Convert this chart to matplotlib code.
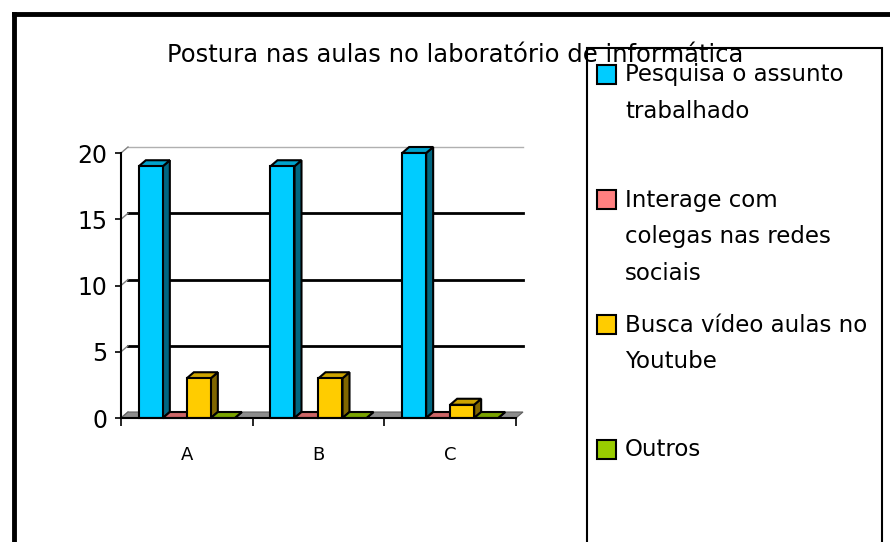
import matplotlib
matplotlib.use("Agg")
import matplotlib.pyplot as plt
from matplotlib.patches import Polygon, Rectangle
from matplotlib.lines import Line2D

# data
categories = ["A", "B", "C"]
series_names = ["Pesquisa o assunto\ntrabalhado",
                "Interage com\ncolegas nas redes\nsociais",
                "Busca vídeo aulas no\nYoutube",
                "Outros"]
pesquisa = [19, 19, 20]
interage = [0, 0, 0]
busca = [3, 3, 1]
outros = [0, 0, 0]
values = [pesquisa, interage, busca, outros]

# face colours: front, top, side
front_colors = ["#00CCFF", "#FF8080", "#FFCC00", "#99CC00"]
top_colors = ["#00A3CC", "#CC6666", "#CCA300", "#7AA300"]
side_colors = ["#006680", "#804040", "#806600", "#4D6600"]

W, H = 890, 542
fig = plt.figure(figsize=(W / 100, H / 100), dpi=100)
plt.rcParams['font.family'] = ['DejaVu Sans']

def fx(px):
    return px / W

def fy(py):
    return 1 - py / H

# axes placed where the front plane of the reference sits
ax = fig.add_axes([fx(121), fy(418), (516 - 121) / W, (418 - 153) / H])
ax.set_xlim(-0.5, 2.5)
ax.set_ylim(0, 20)

px_x = 395 / 3.0        # pixels per category
px_y = 265 / 20.0       # pixels per unit
dx = 7 / px_x           # depth offset
dy = 6 / px_y

bar_w = 24 / px_x
margin = (1 - 4 * bar_w) / 2

# back wall gridlines
for yv in [5, 10, 15, 20]:
    col = "black" if yv < 20 else "#B0B0B0"
    lw = 2.0 if yv < 20 else 1.0
    ax.add_line(Line2D([-0.5 + dx, 2.5 + dx], [yv + dy, yv + dy], color=col,
                       lw=lw, zorder=1, clip_on=False))
for yv in [0, 5, 10, 15, 20]:
    ax.add_line(Line2D([-0.5, -0.5 + dx], [yv, yv + dy], color="#808080",
                       lw=1.0, zorder=1, clip_on=False))

# floor
ax.add_patch(Polygon([(-0.5, 0), (2.5, 0), (2.5 + dx, dy), (-0.5 + dx, dy)],
                     closed=True, facecolor="#8C8C8C", edgecolor="#606060",
                     lw=0.8, zorder=2, clip_on=False))

z = 3
for ci in range(len(categories)):
    for si in range(len(values)):
        v = values[si][ci]
        x0 = ci - 0.5 + margin + si * bar_w
        x1 = x0 + bar_w
        side = Polygon([(x1, 0), (x1 + dx, dy), (x1 + dx, v + dy), (x1, v)],
                       closed=True, facecolor=side_colors[si], edgecolor="black",
                       lw=1.5, zorder=z, clip_on=False)
        top = Polygon([(x0, v), (x1, v), (x1 + dx, v + dy), (x0 + dx, v + dy)],
                      closed=True, facecolor=top_colors[si], edgecolor="black",
                      lw=1.5, zorder=z, clip_on=False)
        ax.add_patch(side)
        ax.add_patch(top)
        if v > 0:
            ax.bar(x0, v, width=bar_w, align="edge", color=front_colors[si],
                   edgecolor="black", lw=1.5, zorder=z, clip_on=False)
        z += 1

for s in ["top", "right"]:
    ax.spines[s].set_visible(False)
ax.spines["left"].set_linewidth(1.5)
ax.spines["bottom"].set_linewidth(1.5)
ax.spines["left"].set_zorder(50)
ax.spines["bottom"].set_zorder(50)
ax.set_facecolor("none")

ax.set_yticks([0, 5, 10, 15, 20])
ax.tick_params(axis="y", labelsize=17, length=4, width=1.2, pad=6)
ax.set_xticks([0, 1, 2])
ax.set_xticklabels(categories)
ax.tick_params(axis="x", which="major", length=0, labelsize=13, pad=20)
ax.set_xticks([-0.5, 0.5, 1.5, 2.5], minor=True)
ax.tick_params(axis="x", which="minor", length=6, width=1.2)

# title
fig.text(fx(455), fy(55), "Postura nas aulas no laboratório de informática",
         ha="center", va="center", fontsize=17.5)

# outer frame
fig.add_artist(Line2D([fx(14), 1.0], [fy(14), fy(14)], color="black", lw=3.5,
                      transform=fig.transFigure))
fig.add_artist(Line2D([fx(14), fx(14)], [fy(14), 0.0], color="black", lw=3.5,
                      transform=fig.transFigure))

# legend box
fig.add_artist(Rectangle((fx(587), fy(560)), (882 - 587) / W, (560 - 48) / H,
                         transform=fig.transFigure, facecolor="none",
                         edgecolor="black", lw=1.5, clip_on=False))
entry_y = [75, 200, 325, 450]
line_step = 37
for si, name in enumerate(series_names):
    yc = entry_y[si]
    fig.add_artist(Rectangle((fx(597), fy(yc + 9)), 19 / W, 19 / H,
                             transform=fig.transFigure,
                             facecolor=front_colors[si], edgecolor="black",
                             lw=1.5))
    for li, line in enumerate(name.split("\n")):
        fig.text(fx(625), fy(yc + li * line_step), line, ha="left",
                 va="center", fontsize=16.5)

fig.savefig("out.png", dpi=100)
